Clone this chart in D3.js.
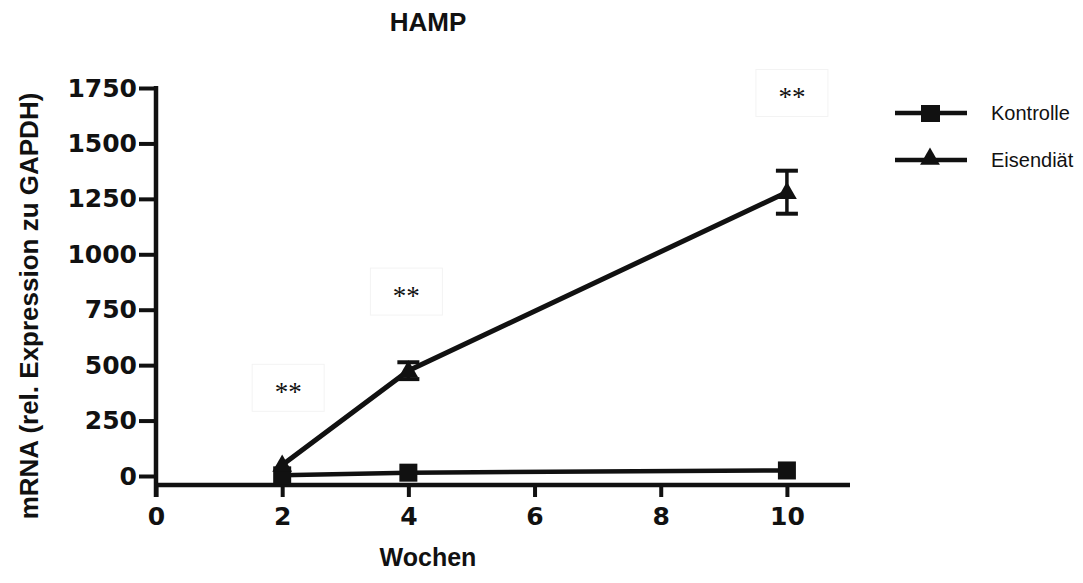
<!DOCTYPE html>
<html>
<head>
<meta charset="utf-8">
<script src="https://cdn.jsdelivr.net/npm/d3@7/dist/d3.min.js"></script>
<style>
  html, body { margin: 0; padding: 0; background: #fff; }
  svg { display: block; }
  .tick text { font-family: "DejaVu Sans", sans-serif; font-weight: bold; font-size: 25px; fill: #111; }
</style>
</head>
<body>
<svg id="chart" width="1083" height="583"></svg>
<script>
// Weeks on the diet
const weeks = [2, 4, 10];
// Relative HAMP mRNA expression (normalised to GAPDH)
const kontrolle = [3, 15, 25];
const eisendiaet = [50, 475, 1280];
const eisendiaetErr = [0, 38, 97];
// Axis ticks
const xTicks = [0, 2, 4, 6, 8, 10];
const yTicks = [0, 250, 500, 750, 1000, 1250, 1500, 1750];
// Significance marks per time point and the level they are printed at
const signif = ["**", "**", "**"];
const signifLevel = [400, 834, 1730];

const svg = d3.select("#chart");
const ink = "#111";
const sans = "Liberation Sans, Arial, sans-serif";

const x = d3.scaleLinear().domain([0, 11]).range([156, 850]);
const y = d3.scaleLinear().domain([0, 1750]).range([476, 88]);
const xAxisY = 485;

// Title and axis labels
svg.append("text").attr("x", 428).attr("y", 31).attr("text-anchor", "middle")
  .attr("font-family", sans).attr("font-weight", "bold")
  .attr("font-size", 26).attr("fill", ink).text("HAMP");
svg.append("text").attr("x", 428).attr("y", 566).attr("text-anchor", "middle")
  .attr("font-family", sans).attr("font-weight", "bold")
  .attr("font-size", 25).attr("fill", ink).text("Wochen");
svg.append("text").attr("transform", "translate(38,306) rotate(-90)").attr("text-anchor", "middle")
  .attr("font-family", sans).attr("font-weight", "bold")
  .attr("font-size", 26).attr("fill", ink).text("mRNA (rel. Expression zu GAPDH)");

// Y axis
const yAxis = svg.append("g").attr("transform", `translate(${x(0)},0)`)
  .call(d3.axisLeft(y).tickValues(yTicks).tickSize(17).tickSizeOuter(0).tickPadding(2).tickFormat(d3.format("d")));
yAxis.select(".domain").remove();
yAxis.selectAll(".tick line").attr("stroke", ink).attr("stroke-width", 4);
yAxis.append("line").attr("x1", 0).attr("x2", 0).attr("y1", y(1750) - 2).attr("y2", xAxisY + 12)
  .attr("stroke", ink).attr("stroke-width", 4.5);

// X axis
const xAxis = svg.append("g").attr("transform", `translate(0,${xAxisY})`)
  .call(d3.axisBottom(x).tickValues(xTicks).tickSize(12).tickSizeOuter(0).tickPadding(10));
xAxis.select(".domain").remove();
xAxis.selectAll(".tick line").attr("stroke", ink).attr("stroke-width", 4);
xAxis.append("line").attr("x1", x(0) - 2).attr("x2", x(11)).attr("y1", 0).attr("y2", 0)
  .attr("stroke", ink).attr("stroke-width", 4.5);

// Significance boxes and asterisks
const signifShift = [6, -2, 5];
weeks.forEach((w, i) => {
  const cx = x(w) + signifShift[i], cy = y(signifLevel[i]);
  svg.append("rect").attr("x", cx - 36).attr("y", cy - 23).attr("width", 72).attr("height", 47)
    .attr("fill", "#fff").attr("stroke", "#f3f3f3").attr("stroke-width", 1);
  svg.append("text").attr("x", cx).attr("y", cy + 14).attr("text-anchor", "middle")
    .attr("font-family", "Liberation Serif, Times New Roman, serif").attr("font-size", 27)
    .attr("fill", ink).text(signif[i]);
});

const line = d3.line().x(d => x(d[0])).y(d => y(d[1]));

// Kontrolle series
const kData = weeks.map((w, i) => [w, kontrolle[i]]);
svg.append("path").datum(kData).attr("d", line).attr("fill", "none")
  .attr("stroke", ink).attr("stroke-width", 4.5);
svg.selectAll(".sq").data(kData).join("rect").attr("class", "sq")
  .attr("x", d => x(d[0]) - 9).attr("y", d => y(d[1]) - 9).attr("width", 18).attr("height", 18)
  .attr("fill", ink);

// Eisendiät series
const eData = weeks.map((w, i) => [w, eisendiaet[i], eisendiaetErr[i]]);
svg.selectAll(".err").data(eData.filter(d => d[2] > 0)).join("g").attr("class", "err").each(function (d) {
  const g = d3.select(this), cx = x(d[0]);
  g.append("line").attr("x1", cx).attr("x2", cx).attr("y1", y(d[1] + d[2])).attr("y2", y(d[1] - d[2]))
    .attr("stroke", ink).attr("stroke-width", 3.5);
  [d[1] + d[2], d[1] - d[2]].forEach(v => g.append("line").attr("x1", cx - 11).attr("x2", cx + 11)
    .attr("y1", y(v)).attr("y2", y(v)).attr("stroke", ink).attr("stroke-width", 4));
});
svg.append("path").datum(eData).attr("d", line).attr("fill", "none")
  .attr("stroke", ink).attr("stroke-width", 5);
const tri = d3.symbol().type(d3.symbolTriangle).size(170);
svg.selectAll(".tri").data(eData).join("path").attr("class", "tri")
  .attr("transform", d => `translate(${x(d[0])},${y(d[1]) + 1})`).attr("d", tri).attr("fill", ink);

// Legend
const legend = [["Kontrolle", "square"], ["Eisendiät", "triangle"]];
legend.forEach(([name, shape], i) => {
  const ly = 113 + i * 47;
  svg.append("line").attr("x1", 895).attr("x2", 967).attr("y1", ly).attr("y2", ly)
    .attr("stroke", ink).attr("stroke-width", 4.5);
  if (shape === "square") {
    svg.append("rect").attr("x", 921).attr("y", ly - 8).attr("width", 19).attr("height", 17).attr("fill", ink);
  } else {
    svg.append("path").attr("transform", `translate(930,${ly - 1})`).attr("d", tri).attr("fill", ink);
  }
  svg.append("text").attr("x", 991).attr("y", ly + 7)
    .attr("font-family", sans).attr("font-size", 20)
    .attr("fill", ink).text(name);
});
</script>
</body>
</html>
